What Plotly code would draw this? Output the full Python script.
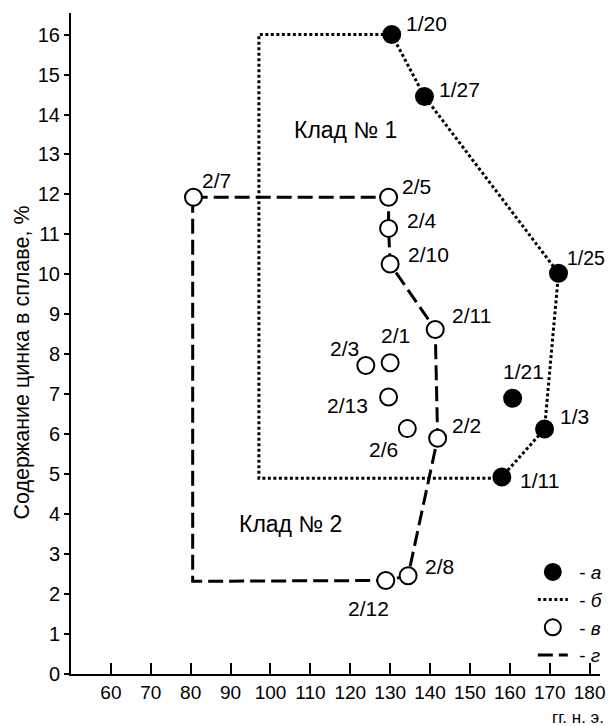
import plotly.graph_objects as go

# ---- data ----
# Hoard No.1 (filled circles, "а")
h1_labels = ["1/20", "1/27", "1/25", "1/21", "1/3", "1/11"]
h1_x = [130.4, 138.6, 172.2, 160.7, 168.7, 158.0]
h1_y = [16.0, 14.45, 10.03, 6.9, 6.13, 4.93]

# Hoard No.2 (open circles, "в")
h2_labels = ["2/7", "2/5", "2/4", "2/10", "2/11", "2/2", "2/8", "2/12", "2/1", "2/3", "2/13", "2/6"]
h2_x = [80.7, 129.6, 129.6, 130.0, 141.3, 141.9, 134.5, 128.9, 130.0, 123.9, 129.6, 134.3]
h2_y = [11.93, 11.93, 11.15, 10.26, 8.62, 5.9, 2.46, 2.34, 7.79, 7.72, 6.93, 6.14]

# boundary of hoard No.1 (dotted, "б")
b1_x = [158.0, 97.1, 97.1, 130.4, 138.6, 172.2, 168.7, 158.0]
b1_y = [4.90, 4.90, 16.0, 16.0, 14.45, 10.03, 6.13, 4.93]

# boundary of hoard No.2 (dashed, "г")
b2_x = [80.5, 129.6, 129.6, 130.0, 141.3, 141.9, 134.5, 128.9, 80.5, 80.5]
b2_y = [11.93, 11.93, 11.15, 10.26, 8.62, 5.9, 2.46, 2.34, 2.32, 11.93]

x_ticks = [60, 70, 80, 90, 100, 110, 120, 130, 140, 150, 160, 170, 180]
y_ticks = list(range(0, 17))

# label offsets (pixels) for each point label: (xanchor, xshift, yshift, size)
h1_label_pos = [("left", 12, 11, 21), ("left", 13, 7, 21), ("left", 6, 15, 19.5),
                ("center", 11, 27, 21), ("left", 13, 13, 21), ("left", 16, -4, 21)]
h2_label_pos = [("left", 7, 17, 21), ("left", 11, 11, 21), ("left", 16, 8, 21), ("left", 16, 9, 21),
                ("left", 15, 14, 21), ("left", 12, 13, 21), ("left", 15, 9, 21), ("center", -17, -28, 21),
                ("center", 5, 27, 21), ("right", -5, 17, 21), ("right", -19, -8, 21), ("right", -7, -21, 21)]

FONT = "Liberation Sans, Arial, sans-serif"
SP = "\u2004"

fig = go.Figure()

fig.add_trace(go.Scatter(
    x=b1_x, y=b1_y, mode="lines", name=SP + "- <i>б</i>", legendrank=2,
    line=dict(color="black", width=3, dash="3px,2.5px"), hoverinfo="skip"))
fig.add_trace(go.Scatter(
    x=b2_x, y=b2_y, mode="lines", name=SP + "- <i>г</i>", legendrank=4,
    line=dict(color="black", width=3, dash="15px,6px"), hoverinfo="skip"))
fig.add_trace(go.Scatter(
    x=h1_x, y=h1_y, mode="markers", name=SP + "- <i>а</i>", legendrank=1,
    marker=dict(color="black", size=17, line=dict(color="black", width=2))))
fig.add_trace(go.Scatter(
    x=h2_x, y=h2_y, mode="markers", name=SP + "- <i>в</i>", legendrank=3,
    marker=dict(color="white", size=17, line=dict(color="black", width=2))))

ann = []
for lab, x, y, (xa, xs, ys, fs) in zip(h1_labels, h1_x, h1_y, h1_label_pos):
    ann.append(dict(x=x, y=y, text=lab, xanchor=xa, yanchor="middle", xshift=xs, yshift=ys,
                    showarrow=False, font=dict(size=fs, color="black", family=FONT)))
for lab, x, y, (xa, xs, ys, fs) in zip(h2_labels, h2_x, h2_y, h2_label_pos):
    ann.append(dict(x=x, y=y, text=lab, xanchor=xa, yanchor="middle", xshift=xs, yshift=ys,
                    showarrow=False, font=dict(size=fs, color="black", family=FONT)))

ann.append(dict(x=118.9, y=13.6, text="Клад № 1", showarrow=False,
                font=dict(size=23, color="black", family=FONT)))
ann.append(dict(x=105.0, y=3.75, text="Клад № 2", showarrow=False,
                font=dict(size=23, color="black", family=FONT)))
ann.append(dict(xref="paper", x=-0.092, yref="y", y=7.8, text="Содержание цинка в сплаве, %",
                textangle=-90, showarrow=False, xanchor="center", yanchor="middle",
                font=dict(size=21.5, color="black", family=FONT)))
ann.append(dict(xref="paper", x=1.012, yref="paper", y=-0.066, text="гг. н. э.",
                showarrow=False, xanchor="right", yanchor="middle",
                font=dict(size=17, color="black", family=FONT)))

fig.update_layout(
    width=607, height=718,
    margin=dict(l=63, r=15, t=5, b=52),
    paper_bgcolor="white", plot_bgcolor="white",
    font=dict(family=FONT, size=20, color="black"),
    showlegend=True,
    legend=dict(x=0.873, y=0.183, xanchor="left", yanchor="top",
                bgcolor="rgba(0,0,0,0)", borderwidth=0,
                font=dict(size=19, family=FONT, color="black"),
                tracegroupgap=0, itemwidth=30),
    annotations=ann,
    xaxis=dict(range=[50, 182.6], tickvals=x_ticks, ticks="inside", ticklen=11, tickwidth=2,
               tickcolor="black", showline=True, linecolor="black", linewidth=2,
               showgrid=False, zeroline=False, tickfont=dict(size=19), tickangle=0),
    yaxis=dict(range=[0, 16.54], tickvals=y_ticks, ticks="outside", ticklen=5, tickwidth=2,
               tickcolor="black", showline=True, linecolor="black", linewidth=2,
               showgrid=False, zeroline=False, tickfont=dict(size=20)),
    yaxis2=dict(range=[0, 16.54], tickvals=y_ticks, ticks="inside", ticklen=10, tickwidth=2,
                tickcolor="black", overlaying="y", side="left", showticklabels=False,
                showline=False, showgrid=False, zeroline=False),
)

fig.write_html("out.html")
